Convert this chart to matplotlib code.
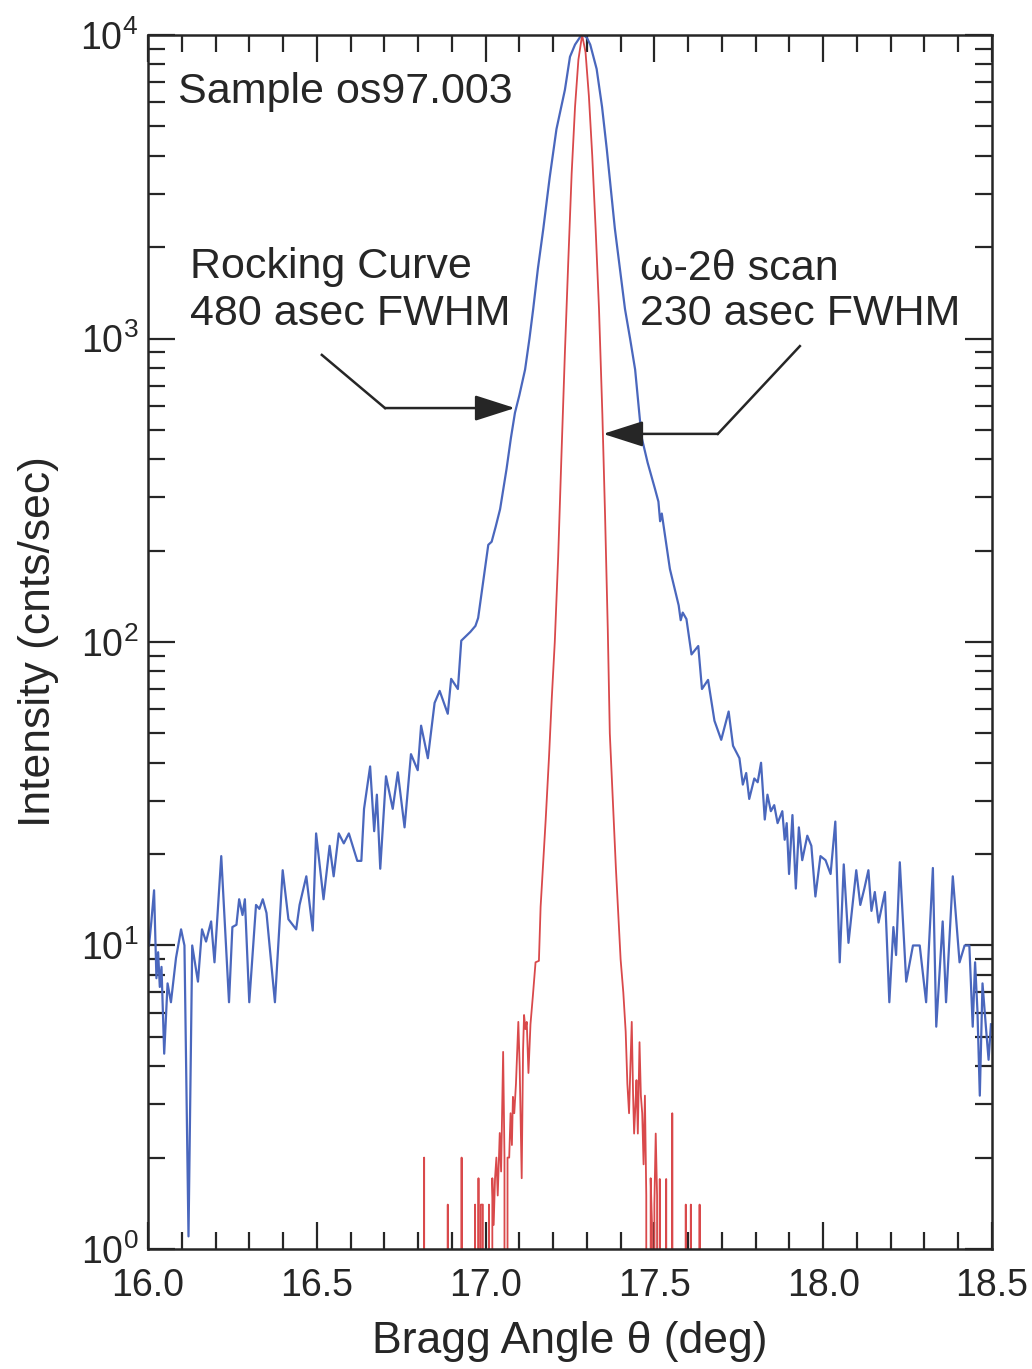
import matplotlib
matplotlib.use("Agg")
import matplotlib.pyplot as plt
import matplotlib.ticker as ticker

# rocking curve: Bragg angle (deg) vs intensity (cnts/sec)
rc_angle = [
    16.003, 16.010, 16.018, 16.025, 16.030, 16.035, 16.040, 16.048, 16.058, 16.068,
    16.083, 16.098, 16.108, 16.120, 16.131, 16.148, 16.160, 16.172, 16.187, 16.197,
    16.217, 16.240, 16.250, 16.262, 16.270, 16.280, 16.287, 16.300, 16.320, 16.330,
    16.340, 16.351, 16.376, 16.399, 16.416, 16.439, 16.449, 16.469, 16.488, 16.498,
    16.520, 16.538, 16.550, 16.565, 16.580, 16.595, 16.620, 16.632, 16.640, 16.658,
    16.670, 16.678, 16.688, 16.705, 16.725, 16.740, 16.760, 16.779, 16.799, 16.809,
    16.829, 16.849, 16.864, 16.888, 16.898, 16.918, 16.928, 16.940, 16.955, 16.970,
    16.978, 16.990, 17.000, 17.008, 17.018, 17.030, 17.043, 17.062, 17.075, 17.087,
    17.100, 17.117, 17.130, 17.141, 17.155, 17.171, 17.190, 17.210, 17.235, 17.250,
    17.265, 17.280, 17.290, 17.300, 17.310, 17.329, 17.345, 17.359, 17.370, 17.383,
    17.398, 17.413, 17.428, 17.443, 17.462, 17.480, 17.502, 17.512, 17.517, 17.522,
    17.546, 17.560, 17.572, 17.578, 17.584, 17.595, 17.610, 17.630, 17.641, 17.659,
    17.678, 17.698, 17.720, 17.733, 17.752, 17.762, 17.772, 17.781, 17.796, 17.806,
    17.816, 17.827, 17.835, 17.845, 17.855, 17.865, 17.879, 17.886, 17.892, 17.899,
    17.909, 17.919, 17.928, 17.938, 17.953, 17.965, 17.977, 17.992, 18.007, 18.022,
    18.036, 18.049, 18.061, 18.075, 18.098, 18.110, 18.122, 18.134, 18.143, 18.153,
    18.164, 18.183, 18.196, 18.208, 18.216, 18.227, 18.246, 18.266, 18.286, 18.305,
    18.325, 18.335, 18.354, 18.364, 18.384, 18.404, 18.419, 18.433, 18.443, 18.450,
    18.457, 18.464, 18.472, 18.482, 18.490, 18.497,
]
rc_counts = [
    10, 12, 15.2, 7.8, 9.5, 7.3, 8.5, 4.4, 7.5, 6.5,
    9.1, 11.3, 10, 1.1, 10, 7.6, 11.3, 10.3, 12, 8.8,
    19.7, 6.5, 11.5, 11.7, 14.2, 12.6, 14.2, 6.5, 13.6, 13.2,
    14.2, 12.8, 6.5, 17.7, 12.2, 11.3, 13.6, 16.9, 11.2, 23.4,
    14.2, 21.3, 16.9, 23.4, 21.7, 23.4, 19, 19, 28.2, 38.9,
    23.8, 31.4, 17.9, 36.1, 28.2, 37.2, 24.5, 42.7, 37.8, 53,
    41.4, 63, 69, 58, 75.6, 70, 101, 104, 108, 113,
    120, 150, 180, 209, 214, 240, 274, 371, 470, 569,
    650, 790, 1000, 1250, 1700, 2300, 3400, 4900, 6600, 8480,
    9300, 9850, 10000, 9800, 9300, 7730, 5800, 4210, 3200, 2300,
    1700, 1250, 1000, 790, 474, 390, 319, 290, 250, 265,
    174, 150, 132, 118, 125, 119, 91, 97, 70, 75,
    55, 47.6, 59, 45.5, 41.4, 33.9, 37, 30.4, 35.5, 34.5,
    40, 26, 31.4, 27.7, 29, 25.3, 27.7, 22.3, 25.3, 17.2,
    26.9, 15.4, 24.5, 19.1, 23, 21.3, 14.5, 19.7, 19.1, 17.2,
    25.6, 8.8, 18.5, 10.2, 17.7, 13.6, 15.4, 17.7, 13, 15,
    11.9, 15, 6.5, 11.5, 9.3, 18.8, 7.6, 10, 10, 6.5,
    18, 5.4, 12, 6.5, 16.9, 8.8, 10, 10, 5.4, 8.8,
    6.1, 3.2, 7.5, 5.4, 4.2, 5.5,
]

# omega-2theta scan (zero counts fall off the log axis)
w2t_angle = [
    16.812, 16.818, 16.823, 16.884, 16.888, 16.892, 16.925, 16.929, 16.932, 16.966,
    16.969, 16.974, 16.979, 16.983, 16.986, 16.992, 16.996, 17.004, 17.010, 17.014,
    17.020, 17.024, 17.028, 17.032, 17.036, 17.042, 17.046, 17.052, 17.056, 17.060,
    17.065, 17.070, 17.074, 17.078, 17.081, 17.085, 17.090, 17.097, 17.101, 17.107,
    17.111, 17.114, 17.118, 17.122, 17.127, 17.133, 17.140, 17.148, 17.158, 17.163,
    17.178, 17.188, 17.196, 17.205, 17.215, 17.225, 17.235, 17.245, 17.255, 17.265,
    17.275, 17.286, 17.296, 17.306, 17.316, 17.326, 17.336, 17.346, 17.354, 17.362,
    17.368, 17.377, 17.386, 17.400, 17.408, 17.415, 17.420, 17.425, 17.429, 17.433,
    17.437, 17.440, 17.444, 17.447, 17.451, 17.456, 17.460, 17.464, 17.468, 17.472,
    17.476, 17.479, 17.485, 17.489, 17.493, 17.497, 17.500, 17.504, 17.508, 17.511,
    17.516, 17.520, 17.531, 17.535, 17.539, 17.549, 17.553, 17.557, 17.589, 17.593,
    17.597, 17.604, 17.608, 17.612, 17.630, 17.634, 17.638,
]
w2t_counts = [
    0, 2.0, 0, 0, 1.4, 0, 0, 2.0, 0, 0,
    1.4, 0, 1.71, 0, 1.4, 1.4, 0, 0, 1.4, 0,
    1.71, 1.2, 1.71, 2.0, 1.5, 2.41, 1.8, 4.46, 2.0, 0,
    2.0, 2.0, 2.8, 2.2, 3.17, 2.8, 3.5, 5.6, 4.0, 1.71,
    4.5, 5.9, 5.3, 5.6, 3.8, 5.5, 6.8, 8.8, 8.9, 13.4,
    25.9, 42, 65, 100, 190, 420, 900, 1800, 3500, 5800,
    8300, 10000, 8800, 6300, 4000, 2300, 1250, 560, 260, 110,
    50, 30, 18, 9.0, 7.0, 5.2, 3.5, 2.8, 4.0, 5.6,
    3.2, 2.4, 3.0, 3.6, 2.4, 4.8, 3.2, 2.8, 1.9, 3.2,
    1.5, 0, 0, 1.71, 1.2, 0, 1.4, 2.4, 1.5, 0,
    1.7, 0, 0, 1.7, 0, 0, 2.8, 0, 0, 1.4,
    0, 0, 1.4, 0, 0, 1.4, 0,
]

x_major = [16.0, 16.5, 17.0, 17.5, 18.0, 18.5]
x_major_labels = ["16.0", "16.5", "17.0", "17.5", "18.0", "18.5"]

ink = "#262626"
plt.rcParams["font.family"] = ["Liberation Sans", "DejaVu Sans"]
plt.rcParams["mathtext.fontset"] = "custom"
plt.rcParams["mathtext.rm"] = "Liberation Sans"
plt.rcParams["mathtext.it"] = "Liberation Sans:italic"

fig = plt.figure(figsize=(10.32, 13.69), dpi=100)
ax = fig.add_axes([0.1434, 0.0877, 0.8178, 0.8867])

ax.plot(rc_angle, rc_counts, color="#4a67bd", lw=1.6)
ax.plot(w2t_angle, w2t_counts, color="#d9494b", lw=1.3)

ax.set_yscale("log")
ax.set_xlim(16.0, 18.5)
ax.set_ylim(1, 1e4)

ax.set_xticks(x_major)
ax.set_xticklabels(x_major_labels)
ax.xaxis.set_minor_locator(ticker.MultipleLocator(0.1))
ax.yaxis.set_major_locator(ticker.LogLocator(base=10, numticks=10))
ax.yaxis.set_minor_locator(ticker.LogLocator(base=10, subs=range(2, 10), numticks=10))
ax.yaxis.set_minor_formatter(ticker.NullFormatter())

ax.tick_params(which="both", direction="in", top=True, right=True,
               color=ink, labelcolor=ink, labelsize=27, width=1.6)
ax.tick_params(which="major", length=19.5)
ax.tick_params(which="minor", length=12.5)
ax.tick_params(axis="x", which="major", pad=14)
ax.tick_params(axis="y", which="major", pad=7)
for side in ax.spines.values():
    side.set_color(ink)
    side.set_linewidth(1.8)

ax.set_xlabel("Bragg Angle θ (deg)", fontsize=32, color=ink, labelpad=12)
ax.set_ylabel("Intensity (cnts/sec)", fontsize=32, color=ink, labelpad=15)

# labels inside the frame
txt = dict(fontsize=31, color=ink, transform=ax.transAxes, va="baseline")
ax.text(0.0355, 0.944, "Sample os97.003", **txt)
ax.text(0.0498, 0.800, "Rocking Curve", **txt)
ax.text(0.0498, 0.761, "480 asec FWHM", **txt)
ax.text(0.583, 0.798, "ω-2θ scan", **txt)
ax.text(0.583, 0.761, "230 asec FWHM", **txt)

# FWHM pointers: a bent leader ending in a filled head
head = dict(arrowstyle="-|>,head_length=1.0,head_width=0.32", mutation_scale=25,
            color=ink, lw=1.8, shrinkA=0, shrinkB=0)
ax.plot([16.515, 16.702], [883, 590], color=ink, lw=1.8)
ax.annotate("", xy=(17.087, 590), xytext=(16.702, 590), arrowprops=head)
ax.plot([17.931, 17.688], [944, 485], color=ink, lw=1.8)
ax.annotate("", xy=(17.348, 485), xytext=(17.688, 485), arrowprops=head)

fig.savefig("out.png", dpi=100)
